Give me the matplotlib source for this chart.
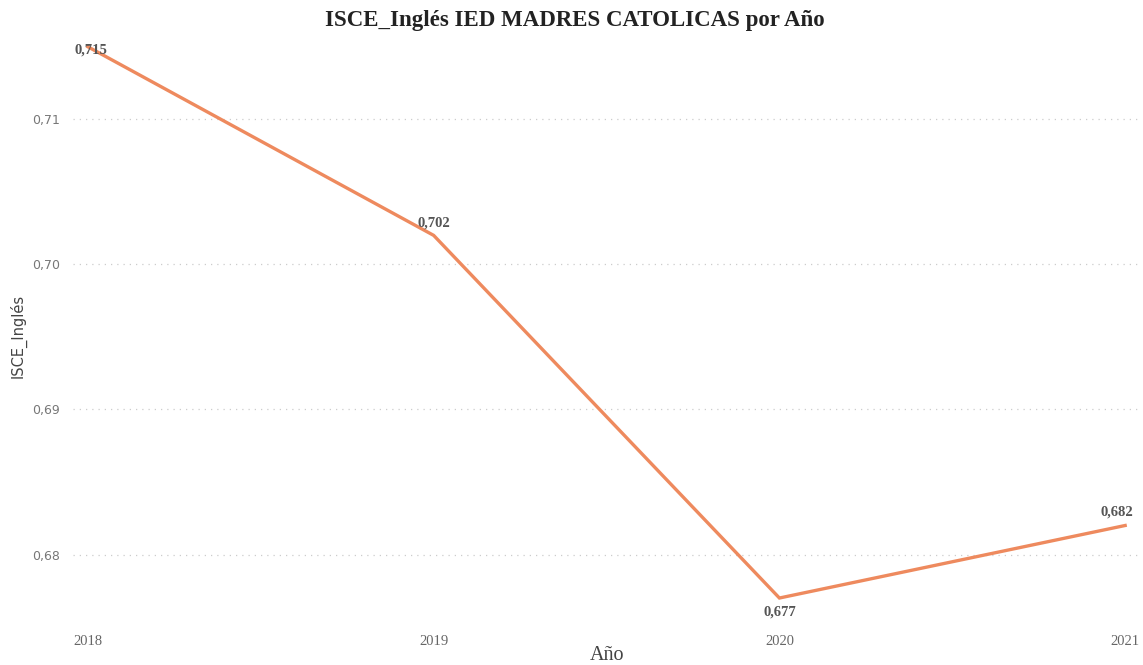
import matplotlib.pyplot as plt
from matplotlib.ticker import FuncFormatter

anios = [2018, 2019, 2020, 2021]
isce_ingles = [0.715, 0.702, 0.677, 0.682]
ticks_y = [0.68, 0.69, 0.70, 0.71]

fig = plt.figure(figsize=(11.43, 6.65), dpi=100)
ax = fig.add_axes([0.0639, 0.068, 0.9335, 0.866])

ax.plot(anios, isce_ingles, color='#EE8A5E', linewidth=2.4, solid_joinstyle='miter')

ax.set_xlim(2017.957, 2021.043)
ax.set_ylim(0.6755, 0.7152)
ax.set_xticks(anios)
ax.set_yticks(ticks_y)
ax.yaxis.set_major_formatter(FuncFormatter(lambda v, p: f'{v:.2f}'.replace('.', ',')))

for s in ax.spines.values():
    s.set_visible(False)
ax.tick_params(length=0)
ax.tick_params(axis='y', pad=9.5, labelsize=9, labelcolor='#777777')
ax.tick_params(axis='x', pad=11, labelsize=10.5, labelcolor='#666666')
for lab in ax.get_yticklabels():
    lab.set_family('DejaVu Sans')
for lab in ax.get_xticklabels():
    lab.set_family('Liberation Serif')
ax.grid(axis='y', color='#cccccc', linestyle=(0, (1, 4)), linewidth=0.9)
ax.grid(axis='x', visible=False)

# etiquetas de datos
offs = [(3, -3), (0, 12), (0, -14), (-8, 13)]
for x, y, (dx, dy) in zip(anios, isce_ingles, offs):
    ax.annotate(f'{y:.3f}'.replace('.', ','), (x, y), xytext=(dx, dy),
                textcoords='offset pixels', ha='center', va='center', fontsize=10.5,
                family='Liberation Serif', fontweight='bold', color='#555555',
                annotation_clip=False)

fig.text(0.503, 0.969, 'ISCE_Inglés IED MADRES CATOLICAS por Año', ha='center', va='center',
         fontsize=16.5, fontweight='bold', family='Liberation Serif', color='#222222')
fig.text(0.531, 0.015, 'Año', ha='center', va='center', fontsize=14.5,
         family='Liberation Serif', color='#444444')
fig.text(0.016, 0.495, 'ISCE_Inglés', rotation=90, ha='center', va='center',
         fontsize=10.5, family='DejaVu Sans', color='#444444')

fig.savefig('out.png', dpi=100)
